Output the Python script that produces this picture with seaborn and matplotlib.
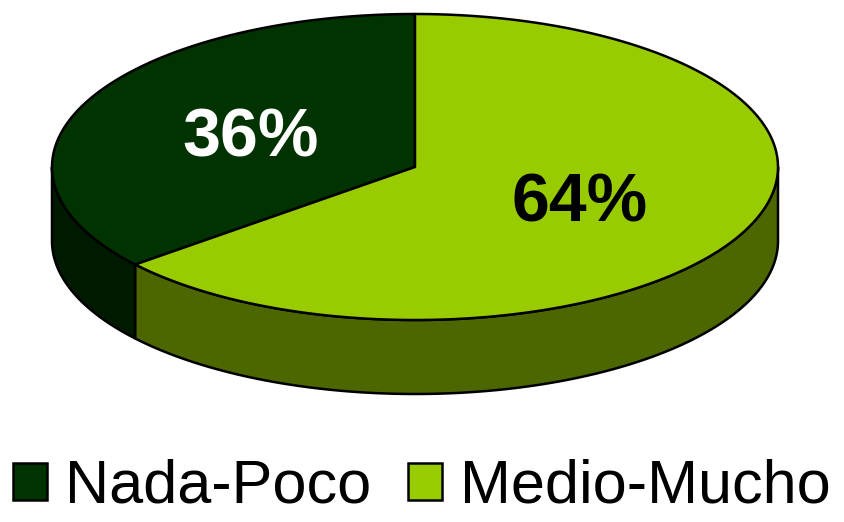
import numpy as np
import matplotlib
matplotlib.use("Agg")
import matplotlib.pyplot as plt
from matplotlib.patches import Polygon, Patch
import seaborn as sns

# Survey shares (percent)
categories = ["Nada-Poco", "Medio-Mucho"]
shares = [36, 64]
top_colors = ["#003300", "#99CC00"]
side_colors = ["#001A00", "#4C6600"]
label_colors = ["white", "black"]

sns.set_theme(style="white")
plt.rcParams["font.family"] = ["Liberation Sans", "DejaVu Sans"]

W, H = 844, 522
fig = plt.figure(figsize=(W / 100, H / 100), dpi=100)
ax = fig.add_axes([0, 0, 1, 1])
ax.set_xlim(0, W)
ax.set_ylim(H, 0)
ax.axis("off")

# Ellipse geometry of the tilted disc (pixel units, y pointing down)
cx, cy = 415, 167
a, b = 363, 153
depth = 74
edge = dict(edgecolor="black", linewidth=1.8, joinstyle="round")


def rim(t0, t1, dy=0.0, n=200):
    t = np.radians(np.linspace(t0, t1, n))
    return np.column_stack([cx + a * np.cos(t), cy - b * np.sin(t) + dy])


# Slice angles: start at 12 o'clock, run counter-clockwise
bounds = [90.0]
for s in shares:
    bounds.append(bounds[-1] + 360.0 * s / sum(shares))

# Side walls (only the front half, 180..360 deg, is visible)
for i in range(len(shares)):
    t0, t1 = bounds[i], bounds[i + 1]
    for k in (0, 360):
        lo, hi = max(t0, 180 + k), min(t1, 360 + k)
        if lo < hi:
            top = rim(lo, hi)
            bot = rim(hi, lo, dy=depth)
            ax.add_patch(Polygon(np.vstack([top, bot]), closed=True,
                                 facecolor=side_colors[i], **edge))

# Top faces
for i in range(len(shares)):
    arc = rim(bounds[i], bounds[i + 1])
    ax.add_patch(Polygon(np.vstack([[cx, cy], arc]), closed=True,
                         facecolor=top_colors[i], **edge))

# Percent labels at half radius along each slice's mid angle
for i, s in enumerate(shares):
    mid = np.radians((bounds[i] + bounds[i + 1]) / 2)
    ax.text(cx + 0.5 * a * np.cos(mid), cy - 0.5 * b * np.sin(mid) + 4,
            f"{s}%", ha="center", va="center", fontsize=49,
            fontweight="bold", color=label_colors[i])

handles = [Patch(facecolor=c, edgecolor="black", linewidth=1.8)
           for c in top_colors]
fig.legend(handles, categories, loc="lower center",
           bbox_to_anchor=(0.5, -0.035), ncol=2, frameon=False,
           fontsize=44, labelcolor="black", handlelength=0.55,
           handleheight=0.55, handletextpad=0.3, columnspacing=0.6,
           borderaxespad=0)

fig.savefig("out.png", dpi=100)
